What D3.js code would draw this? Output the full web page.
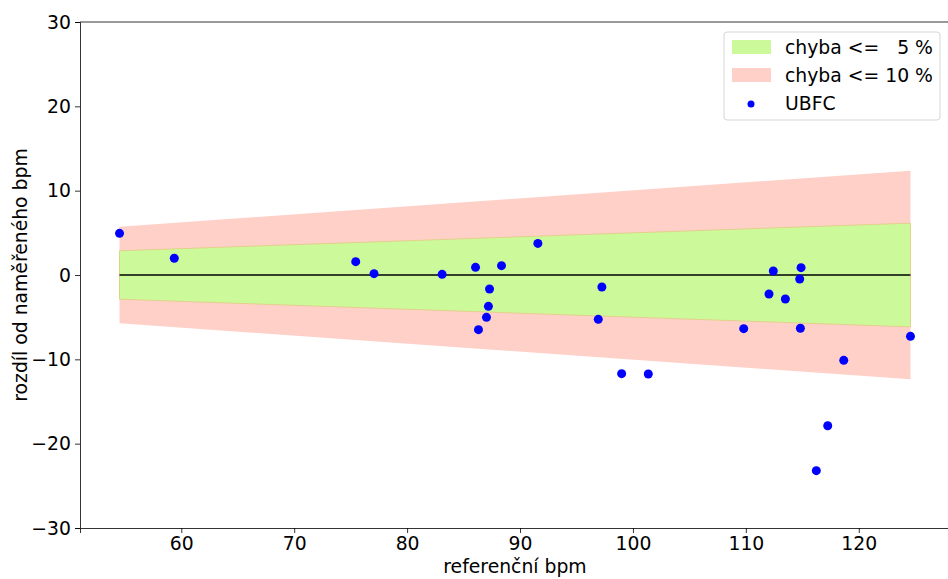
<!DOCTYPE html>
<html>
<head>
<meta charset="utf-8">
<script src="https://cdn.jsdelivr.net/npm/d3@7/dist/d3.min.js"></script>
<style>
  body { margin: 0; background: #fff; }
  text { font-family: "DejaVu Sans", sans-serif; }
</style>
</head>
<body>
<div id="chart"></div>
<script>
// reference bpm vs. difference from measured bpm
const refBpm = [54.53, 59.38, 75.45, 77.07, 83.1, 86.06, 88.36, 91.58, 87.3, 87.2, 87.03, 86.32,
  97.25, 96.93, 99.0, 101.36, 112.43, 114.89, 114.77, 112.05, 113.5, 109.81, 114.83, 124.58,
  118.67, 117.25, 116.24];
const diffBpm = [4.94, 1.98, 1.58, 0.16, 0.08, 0.91, 1.11, 3.75, -1.66, -3.72, -5.02, -6.48,
  -1.42, -5.26, -11.7, -11.74, 0.47, 0.87, -0.47, -2.25, -2.85, -6.36, -6.32, -7.27,
  -10.12, -17.87, -23.2];

// error bands, half width at the ends of the reference range
const bandX = [54.53, 124.58];
const band5 = [2.87, 6.15];
const band10 = [5.73, 12.37];

const xTicks = [60, 70, 80, 90, 100, 110, 120];
const yTicks = [-30, -20, -10, 0, 10, 20, 30];
const legendLabels = ["chyba <=   5 %", "chyba <= 10 %", "UBFC"];

const W = 948, H = 579;
const margin = { top: 22, right: -2, bottom: 51, left: 80 };
const width = W - margin.left - margin.right,
  height = H - margin.top - margin.bottom;
const fs = "18.8px";

const svg = d3.select("#chart").append("svg")
  .attr("width", W)
  .attr("height", H);

const g = svg.append("g")
  .attr("transform", "translate(" + margin.left + "," + margin.top + ")");

const x = d3.scaleLinear().domain([51.03, 128.08]).range([0, width]);
const y = d3.scaleLinear().domain([-30, 30]).range([height, 0]);

// bands
const area = d3.area()
  .x(d => x(d.x))
  .y0(d => y(-d.h))
  .y1(d => y(d.h));

const b10 = bandX.map((v, i) => ({ x: v, h: band10[i] }));
const b5 = bandX.map((v, i) => ({ x: v, h: band5[i] }));

g.append("path")
  .datum(b10)
  .attr("d", area)
  .attr("fill", "#ffd0c8");

g.append("path")
  .datum(b5)
  .attr("d", area)
  .attr("fill", "#ccfa9a")
  .attr("stroke", "#e3cf8c")
  .attr("stroke-width", 1);

// zero line
g.append("line")
  .attr("x1", x(bandX[0]))
  .attr("x2", x(bandX[1]))
  .attr("y1", y(0))
  .attr("y2", y(0))
  .attr("stroke", "#000")
  .attr("stroke-width", 1.5);

// points
g.selectAll(".dot")
  .data(refBpm)
  .enter().append("circle")
  .attr("class", "dot")
  .attr("cx", d => x(d))
  .attr("cy", (d, i) => y(diffBpm[i]))
  .attr("r", 4.5)
  .attr("fill", "#0000ff");

// axes
const xAxis = g.append("g")
  .attr("transform", "translate(0," + height + ")")
  .call(d3.axisBottom(x).tickValues(xTicks).tickSize(5).tickPadding(4));

const yAxis = g.append("g")
  .call(d3.axisLeft(y).tickValues(yTicks).tickSize(5).tickPadding(4));

[xAxis, yAxis].forEach(a => {
  a.selectAll("text").attr("font-size", fs).attr("fill", "#000")
    .attr("font-family", "DejaVu Sans, sans-serif");
  a.selectAll("line").attr("stroke", "#000").attr("stroke-width", 0.8);
  a.select(".domain").attr("stroke", "#000").attr("stroke-width", 0.8);
});

// top spine
g.append("line")
  .attr("x1", 0).attr("x2", width)
  .attr("y1", 0).attr("y2", 0)
  .attr("stroke", "#000").attr("stroke-width", 0.8);

// axis labels
svg.append("text")
  .attr("x", margin.left + width / 2)
  .attr("y", 573)
  .attr("text-anchor", "middle")
  .attr("font-size", fs)
  .text("referenční bpm");

svg.append("text")
  .attr("transform", "translate(27," + (margin.top + height / 2) + ") rotate(-90)")
  .attr("text-anchor", "middle")
  .attr("font-size", fs)
  .text("rozdíl od naměřeného bpm");

// legend
const leg = svg.append("g").attr("transform", "translate(724,32)");
leg.append("rect")
  .attr("width", 216).attr("height", 88)
  .attr("rx", 3)
  .attr("fill", "#fff")
  .attr("fill-opacity", 0.8)
  .attr("stroke", "#d6d6d6");

leg.append("rect").attr("x", 8).attr("y", 8).attr("width", 39).attr("height", 14)
  .attr("fill", "#ccfa9a");
leg.append("rect").attr("x", 8).attr("y", 36).attr("width", 39).attr("height", 14)
  .attr("fill", "#ffd0c8");
leg.append("circle").attr("cx", 27).attr("cy", 72).attr("r", 3.5)
  .attr("fill", "#0000ff");

leg.selectAll(".lt")
  .data(legendLabels)
  .enter().append("text")
  .attr("class", "lt")
  .attr("x", 61)
  .attr("y", (d, i) => 22 + i * 28)
  .attr("font-size", fs)
  .style("white-space", "pre")
  .text(d => d);
</script>
</body>
</html>
